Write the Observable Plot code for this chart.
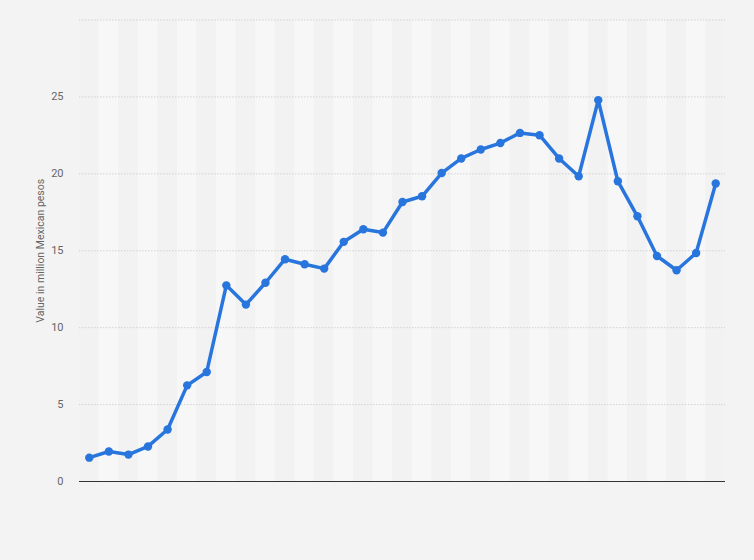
<!DOCTYPE html>
<html>
<head>
<meta charset="utf-8">
<script src="https://cdn.jsdelivr.net/npm/d3@7"></script>
<script src="https://cdn.jsdelivr.net/npm/@observablehq/plot@0.6"></script>
<style>
  html, body { margin: 0; padding: 0; background: #f3f3f3; }
  #chart svg { display: block; }
</style>
</head>
<body>
<div id="chart"></div>
<script>
// x categories (no labels are shown in the reference): 33 consecutive periods
const periods = Array.from({length: 33}, (_, i) => String(i + 1));
const values = [
  1.55, 1.95, 1.75, 2.28, 3.38, 6.25, 7.12, 12.75, 11.5, 12.92,
  14.45, 14.12, 13.84, 15.58, 16.4, 16.18, 18.17, 18.54, 20.05, 21.0,
  21.58, 22.0, 22.66, 22.51, 21.0, 19.84, 24.79, 19.52, 17.24, 14.66,
  13.73, 14.85, 19.37
];
const yTicks = [0, 5, 10, 15, 20, 25];
const gridTicks = [5, 10, 15, 20, 25, 30];
const yLabel = "Value in million Mexican pesos";

const data = periods.map((p, i) => ({period: p, value: values[i], idx: i}));

const chart = Plot.plot({
  width: 754,
  height: 560,
  marginLeft: 79,
  marginRight: 29,
  marginTop: 19.5,
  marginBottom: 79,
  style: {background: "#f3f3f3", fontFamily: "Roboto, 'Open Sans', sans-serif"},
  x: {type: "band", domain: periods, padding: 0, round: false, axis: null},
  y: {domain: [0, 30], axis: null},
  marks: [
    Plot.cell(data, {x: "period", fill: d => d.idx % 2 === 0 ? "#f2f2f2" : "#f7f7f7"}),
    Plot.ruleY(gridTicks, {stroke: "#d2d2d2", strokeDasharray: "1.5,1.5", strokeWidth: 1}),
    Plot.ruleY([0], {stroke: "#333", strokeWidth: 1.2}),
    Plot.axisY(yTicks, {tickSize: 0, tickPadding: 16, fontSize: 11, color: "#666", label: null}),
    Plot.text([yLabel], {frameAnchor: "left", dx: -39, rotate: -90, textAnchor: "middle", fontSize: 10.5, fill: "#666"}),
    Plot.line(data, {x: "period", y: "value", stroke: "#2876dd", strokeWidth: 3.5, strokeLinejoin: "round", strokeLinecap: "round"}),
    Plot.dot(data, {x: "period", y: "value", r: 4.2, fill: "#2876dd", stroke: "none"})
  ]
});
document.getElementById("chart").appendChild(chart);
</script>
</body>
</html>
